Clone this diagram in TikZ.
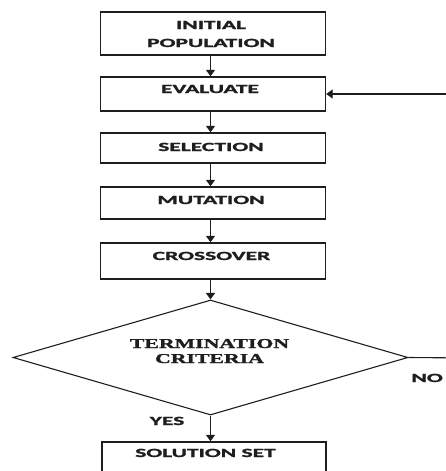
\documentclass[tikz,border=0pt]{standalone}
\usepackage{fontspec}
\usetikzlibrary{arrows.meta,shapes.geometric}
\newfontfamily\boxfont[BoldFeatures={FakeBold=1.2}]{Carlito}
\newfontfamily\serfont[BoldFeatures={FakeBold=1.2}]{Liberation Serif}
\newcommand{\sx}[1]{\scalebox{1.88}[1]{#1}}
\newcommand{\sxs}[1]{\scalebox{1.6}[1]{#1}}
\definecolor{ink}{HTML}{1E1E1E}
\tikzset{
  stepbox/.style={draw=ink, line width=1.4pt, rectangle, minimum width=225pt, inner sep=0pt},
  lbl/.style={anchor=base, inner sep=0pt, text=ink, font=\boxfont\bfseries\fontsize{12.5}{14}\selectfont},
  slbl/.style={anchor=base, inner sep=0pt, text=ink, font=\serfont\bfseries\fontsize{13.6}{15}\selectfont},
  arr/.style={draw=ink, line width=1.3pt, -{Triangle[width=9pt,length=6.5pt]}},
  ln/.style={draw=ink, line width=1.1pt}
}
\begin{document}
\begin{tikzpicture}[x=1pt,y=-1pt]
\useasboundingbox (0,0) rectangle (445,471);
% boxes
\node[stepbox, minimum height=43pt] (init) at (213,33.5) {};
\node[stepbox, minimum height=34pt] (eval) at (213,94) {};
\node[stepbox, minimum height=30pt] (sel) at (213,148) {};
\node[stepbox, minimum height=32pt] (mut) at (213,203) {};
\node[stepbox, minimum height=36pt] (cross) at (213,261) {};
\node[stepbox, minimum width=224pt, minimum height=40pt] (sol) at (214,462) {};
% decision
\node[draw=ink, line width=1.1pt, diamond, minimum width=395pt, minimum height=115pt, inner sep=0pt] (term) at (210.5,357.5) {};
\coordinate (loop) at (470,358);
% texts
\node[lbl] (t1) at (211,29) {\sx{INITIAL}};
\node[lbl] (t2) at (211,47) {\sx{POPULATION}};
\node[lbl] (t3) at (210,93) {\sx{EVALUATE}};
\node[lbl] (t4) at (211,151) {\sx{SELECTION}};
\node[lbl] (t5) at (211,204) {\sx{MUTATION}};
\node[lbl] (t6) at (211.5,260) {\sx{CROSSOVER}};
\node[slbl] (t7) at (209.5,348) {\sxs{TERMINATION}};
\node[slbl] (t8) at (209.5,363) {\sxs{CRITERIA}};
\node[lbl] (t9) at (205.5,457) {\sx{SOLUTION SET}};
\node[lbl] (yes) at (167,425) {\sx{YES}};
\node[lbl, anchor=base east] (no) at (443,382) {\sx{NO}};
% connectors
\draw[arr] ([xshift=-2.5pt]init.south) -- ([xshift=-2.5pt]eval.north);
\draw[arr] ([xshift=-2.5pt]eval.south) -- ([xshift=-2.5pt]sel.north);
\draw[arr] ([xshift=-2.5pt]sel.south) -- ([xshift=-2.5pt]mut.north);
\draw[arr] ([xshift=-2.5pt]mut.south) -- ([xshift=-2.5pt]cross.north);
\draw[arr] ([xshift=-2.5pt]cross.south) -- (term.north);
\draw[arr] (term.south) -- (term.south |- sol.north);
\draw[ln] (term.east) -- (loop);
\draw[arr] (loop) |- (eval.east);
\end{tikzpicture}
\end{document}
